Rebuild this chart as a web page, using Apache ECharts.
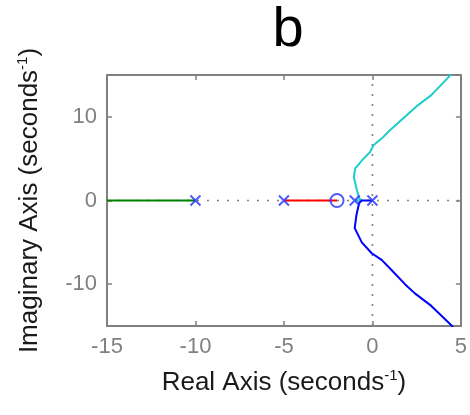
<!DOCTYPE html>
<html>
<head>
<meta charset="utf-8">
<script src="https://cdn.jsdelivr.net/npm/echarts@6/dist/echarts.min.js"></script>
<style>
html,body{margin:0;padding:0;background:#fff;}
#container{width:470px;height:415px;}
</style>
</head>
<body>
<div id="container"></div>
<script>
// axis ticks
var realTicks = [-15, -10, -5, 0, 5];
var imagTicks = [-10, 0, 10];

// open loop poles / zeros (real part, imag part)
var poles = [[-10, 0], [-5, 0], [-1, 0], [0, 0]];
var zeros = [[-2, 0]];

// locus branches
var greenBranch = [[-15, 0], [-10, 0]];
var redBranch = [[-5, 0], [-2, 0]];
var cyanBranch = [[-1, 0], [-0.6, 0], [-0.75, 0.3], [-0.88, 1.25], [-1.05, 2.8], [-0.97, 3.85],
	[-0.5, 5.0], [-0.13, 5.8], [0.06, 6.6], [0.52, 7.4], [0.99, 8.4], [1.84, 10.0],
	[2.58, 11.4], [3.33, 12.6], [4.37, 14.9], [4.45, 15.1]];
var blueBranch = [[0, 0], [-0.6, 0], [-0.75, -0.3], [-0.9, -1.7], [-1.0, -3.3], [-0.6, -5.0],
	[-0.04, -6.3], [0.52, -7.1], [1.08, -8.3], [1.84, -10.0], [2.4, -11.1],
	[3.33, -12.6], [4.46, -14.9], [4.55, -15.1]];

var axisGray = '#808080';
var font = '"Liberation Sans", Arial, sans-serif';

var myChart = echarts.init(document.getElementById('container'));

function nameRich(){
	return {
		m: {fontSize: 26, fontFamily: font, color: '#1a1a1a', lineHeight: 30},
		s: {fontSize: 15, fontFamily: font, color: '#1a1a1a', verticalAlign: 'top', lineHeight: 15}
	};
}

var option = {
	backgroundColor: '#fff',
	animation: false,
	title: {
		text: 'b',
		left: 283,
		top: -2,
		textAlign: 'center',
		textStyle: {fontSize: 56, fontWeight: 'normal', fontFamily: font, color: '#000'}
	},
	grid: {left: 107, right: 7, top: 75, bottom: 89, containLabel: false},
	xAxis: [{
		type: 'value', min: realTicks[0], max: realTicks[realTicks.length - 1], interval: 5,
		name: '{m|Real Axis (seconds}{s|-1}{m|)}',
		nameLocation: 'middle', nameGap: 42,
		nameTextStyle: {rich: nameRich()},
		axisLine: {show: true, onZero: false, lineStyle: {color: axisGray, width: 2}},
		axisTick: {show: true, inside: true, length: 5, lineStyle: {color: axisGray, width: 1.5}},
		axisLabel: {color: axisGray, fontSize: 22, fontFamily: font, margin: 10},
		splitLine: {show: false}
	}, {
		type: 'value', position: 'top', min: -15, max: 5, interval: 5,
		axisLine: {show: true, onZero: false, lineStyle: {color: axisGray, width: 2}},
		axisTick: {show: true, inside: true, length: 5, lineStyle: {color: axisGray, width: 1.5}},
		axisLabel: {show: false},
		splitLine: {show: false}
	}],
	yAxis: [{
		type: 'value', min: -15, max: 15,
		name: '{m|Imaginary Axis (seconds}{s|-1}{m|)}',
		nameLocation: 'middle', nameGap: 62, nameRotate: 90,
		nameTextStyle: {rich: nameRich()},
		axisLine: {show: true, onZero: false, lineStyle: {color: axisGray, width: 2}},
		axisTick: {show: true, inside: true, length: 5, customValues: imagTicks, lineStyle: {color: axisGray, width: 1.5}},
		axisLabel: {color: axisGray, fontSize: 22, fontFamily: font, margin: 10, customValues: imagTicks},
		splitLine: {show: false}
	}, {
		type: 'value', position: 'right', min: -15, max: 15,
		axisLine: {show: true, onZero: false, lineStyle: {color: axisGray, width: 2}},
		axisTick: {show: true, inside: true, length: 5, customValues: imagTicks, lineStyle: {color: axisGray, width: 1.5}},
		axisLabel: {show: false, customValues: imagTicks},
		splitLine: {show: false}
	}],
	series: [{
		// dotted zero lines
		type: 'line', data: [[-15, 0], [5, 0]], showSymbol: false, z: 1,
		lineStyle: {color: axisGray, width: 1.6, type: [2, 8]}
	}, {
		type: 'line', data: [[0, -15], [0, 15]], showSymbol: false, z: 1,
		lineStyle: {color: axisGray, width: 1.6, type: [2, 8]}
	}, {
		type: 'line', data: greenBranch, showSymbol: false, z: 2,
		lineStyle: {color: '#008000', width: 2}
	}, {
		type: 'line', data: redBranch, showSymbol: false, z: 2,
		lineStyle: {color: '#ff0000', width: 2}
	}, {
		type: 'line', data: cyanBranch, showSymbol: false, z: 2,
		lineStyle: {color: '#1fcccc', width: 2}
	}, {
		type: 'line', data: blueBranch, showSymbol: false, z: 2,
		lineStyle: {color: '#0000ff', width: 2}
	}, {
		type: 'scatter', data: poles, z: 3,
		symbol: 'path://M0,0L10,10M10,0L0,10', symbolSize: 10,
		itemStyle: {color: 'rgba(0,0,0,0)', borderColor: '#2233ff', borderWidth: 2}
	}, {
		type: 'scatter', data: zeros, z: 3,
		symbol: 'circle', symbolSize: 13,
		itemStyle: {color: 'rgba(0,0,0,0)', borderColor: '#2233ff', borderWidth: 2}
	}]
};
myChart.setOption(option);
</script>
</body>
</html>
